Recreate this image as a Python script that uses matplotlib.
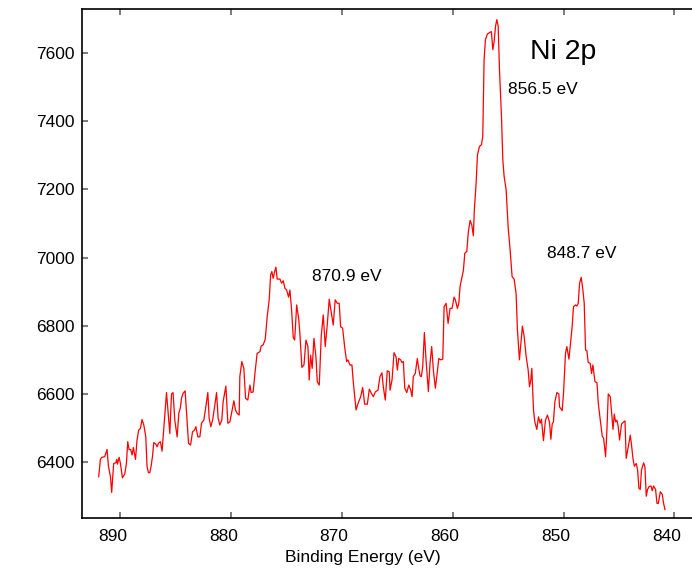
import matplotlib
matplotlib.use("Agg")
import matplotlib.pyplot as plt
from matplotlib.transforms import ScaledTranslation

plt.rcParams["font.family"] = ["Liberation Sans", "DejaVu Sans"]

# Ni 2p spectrum (binding energy in eV, counts)
energy = [
    891.96, 891.81, 891.69, 891.42, 891.21, 891.08, 890.90, 890.79, 890.67, 890.61,
    890.42, 890.33, 890.27, 890.12, 890.00, 889.82, 889.61, 889.46, 889.34, 889.22,
    889.07, 888.95, 888.83, 888.64, 888.50, 888.35, 888.19, 888.05, 887.89, 887.71,
    887.60, 887.47, 887.35, 887.23, 887.11, 886.99, 886.81, 886.69, 886.57, 886.39,
    886.24, 886.02, 885.84, 885.70, 885.54, 885.39, 885.25, 885.09, 884.88, 884.73,
    884.58, 884.49, 884.34, 884.16, 884.03, 883.85, 883.67, 883.49, 883.31, 883.19,
    883.01, 882.83, 882.68, 882.47, 882.29, 882.11, 881.99, 881.84, 881.68, 881.50,
    881.32, 881.18, 881.03, 880.85, 880.73, 880.48, 880.30, 880.12, 879.97, 879.76,
    879.61, 879.46, 879.28, 879.22, 879.04, 878.86, 878.70, 878.50, 878.31, 878.20,
    878.02, 877.84, 877.66, 877.41, 877.29, 877.11, 876.93, 876.75, 876.57, 876.44,
    876.33, 876.21, 876.08, 875.96, 875.85, 875.60, 875.45, 875.30, 875.15, 875.00,
    874.82, 874.70, 874.55, 874.40, 874.27, 874.09, 873.91, 873.80, 873.62, 873.43,
    873.25, 873.07, 872.96, 872.83, 872.69, 872.53, 872.35, 872.23, 872.05, 871.87,
    871.69, 871.51, 871.33, 871.15, 870.97, 870.79, 870.61, 870.43, 870.25, 870.12,
    869.94, 869.76, 869.58, 869.46, 869.28, 869.10, 868.98, 868.85, 868.73, 868.55,
    868.31, 868.13, 867.95, 867.71, 867.53, 867.35, 867.17, 866.99, 866.75, 866.57,
    866.39, 866.27, 866.09, 865.91, 865.73, 865.66, 865.48, 865.30, 865.12, 865.00,
    864.88, 864.70, 864.58, 864.46, 864.33, 864.15, 863.97, 863.79, 863.67, 863.56,
    863.38, 863.20, 863.07, 862.95, 862.83, 862.71, 862.56, 862.41, 862.20, 862.05,
    861.90, 861.75, 861.57, 861.44, 861.26, 861.08, 860.90, 860.78, 860.60, 860.42,
    860.24, 860.06, 859.88, 859.76, 859.58, 859.45, 859.34, 859.18, 859.04, 858.91,
    858.73, 858.59, 858.43, 858.28, 858.14, 858.05, 857.89, 857.77, 857.59, 857.41,
    857.29, 857.17, 857.05, 856.87, 856.63, 856.51, 856.38, 856.26, 856.14, 856.02,
    855.90, 855.78, 855.60, 855.48, 855.36, 855.18, 855.00, 854.82, 854.64, 854.46,
    854.28, 854.16, 853.98, 853.85, 853.71, 853.55, 853.37, 853.19, 853.07, 852.95,
    852.86, 852.71, 852.59, 852.41, 852.26, 852.11, 851.99, 851.81, 851.63, 851.45,
    851.27, 851.14, 851.02, 850.91, 850.78, 850.60, 850.42, 850.36, 850.12, 850.00,
    849.82, 849.70, 849.51, 849.40, 849.22, 849.10, 848.92, 848.79, 848.67, 848.55,
    848.40, 848.25, 848.13, 848.01, 847.89, 847.77, 847.59, 847.47, 847.35, 847.16,
    846.98, 846.86, 846.68, 846.50, 846.38, 846.20, 846.08, 845.96, 845.78, 845.66,
    845.53, 845.42, 845.30, 845.18, 845.06, 844.94, 844.76, 844.58, 844.45, 844.34,
    844.16, 843.97, 843.86, 843.73, 843.61, 843.43, 843.31, 843.19, 843.07, 842.96,
    842.77, 842.65, 842.53, 842.41, 842.28, 842.10, 841.99, 841.87, 841.69, 841.56,
    841.44, 841.26, 841.08, 840.97, 840.84,
]
counts = [
    6357, 6408, 6414, 6416, 6437, 6388, 6357, 6311, 6367, 6396,
    6398, 6408, 6394, 6414, 6396, 6354, 6365, 6396, 6460, 6437,
    6437, 6421, 6443, 6408, 6465, 6494, 6499, 6525, 6509, 6474,
    6388, 6369, 6369, 6388, 6416, 6457, 6453, 6445, 6455, 6460,
    6432, 6529, 6604, 6548, 6484, 6600, 6604, 6523, 6474, 6543,
    6561, 6587, 6602, 6609, 6543, 6455, 6450, 6489, 6494, 6504,
    6474, 6474, 6514, 6523, 6562, 6604, 6529, 6504, 6523, 6562,
    6604, 6529, 6509, 6523, 6577, 6623, 6514, 6518, 6543, 6580,
    6553, 6543, 6538, 6651, 6695, 6675, 6587, 6582, 6626, 6604,
    6606, 6665, 6719, 6724, 6741, 6744, 6760, 6827, 6876, 6949,
    6959, 6939, 6959, 6972, 6937, 6937, 6925, 6932, 6910, 6905,
    6884, 6905, 6848, 6766, 6758, 6861, 6822, 6778, 6678, 6685,
    6758, 6739, 6641, 6714, 6675, 6763, 6709, 6636, 6626, 6770,
    6832, 6739, 6802, 6878, 6841, 6802, 6876, 6866, 6866, 6797,
    6793, 6739, 6695, 6700, 6685, 6685, 6636, 6592, 6553, 6572,
    6592, 6619, 6570, 6570, 6614, 6602, 6592, 6606, 6611, 6651,
    6662, 6621, 6582, 6668, 6665, 6611, 6641, 6721, 6709, 6670,
    6704, 6700, 6692, 6695, 6617, 6604, 6626, 6611, 6592, 6651,
    6660, 6704, 6675, 6653, 6651, 6680, 6780, 6700, 6607, 6690,
    6739, 6670, 6617, 6651, 6704, 6700, 6702, 6856, 6866, 6807,
    6851, 6851, 6884, 6876, 6851, 6866, 6915, 6940, 6962, 7013,
    7018, 7076, 7109, 7096, 7064, 7140, 7218, 7301, 7326, 7331,
    7355, 7580, 7639, 7656, 7661, 7663, 7610, 7634, 7678, 7698,
    7680, 7551, 7414, 7287, 7238, 7199, 7091, 7023, 6944, 6937,
    6895, 6788, 6700, 6749, 6799, 6768, 6709, 6670, 6621, 6641,
    6675, 6553, 6518, 6496, 6533, 6514, 6526, 6463, 6523, 6538,
    6518, 6467, 6512, 6518, 6577, 6604, 6600, 6562, 6551, 6602,
    6719, 6739, 6702, 6739, 6797, 6856, 6861, 6858, 6866, 6925,
    6942, 6905, 6866, 6729, 6727, 6692, 6690, 6660, 6685, 6636,
    6633, 6573, 6523, 6476, 6470, 6416, 6494, 6600, 6592, 6545,
    6496, 6541, 6518, 6523, 6504, 6465, 6512, 6518, 6521, 6411,
    6445, 6479, 6450, 6411, 6388, 6396, 6377, 6323, 6320, 6377,
    6398, 6386, 6300, 6320, 6328, 6330, 6316, 6330, 6320, 6279,
    6279, 6313, 6305, 6280, 6261,
]

x_ticks = [890, 880, 870, 860, 850, 840]
y_ticks = [6400, 6600, 6800, 7000, 7200, 7400, 7600]

# peak labels: text, x (eV, left edge), y (counts, baseline)
peak_labels = ["856.5 eV", "848.7 eV", "870.9 eV"]
peak_x = [855.0, 851.45, 872.7]
peak_y = [7480, 6999, 6931]

fig = plt.figure(figsize=(6.92, 5.69), dpi=100)
ax = fig.add_axes([0.118, 0.089, 0.882, 0.895])

ax.plot(energy, counts, color="red", linewidth=0.9)

ax.set_xlim(893.5, 838.4)
ax.set_ylim(6235, 7729)
ax.set_xticks(x_ticks)
ax.set_yticks(y_ticks)

ax.spines["right"].set_visible(False)
for side in ["left", "top", "bottom"]:
    ax.spines[side].set_linewidth(1.2)
ax.tick_params(axis="x", direction="in", top=True, length=4, width=1.2,
               color="#666666", labelsize=12.5, pad=8)
ax.tick_params(axis="y", direction="in", length=4, width=1.2,
               color="#666666", labelsize=12.5, pad=5)

# tick labels sit a little left of their ticks in the original
shift = ScaledTranslation(-8 / 100, 0, fig.dpi_scale_trans)
for lbl in ax.get_xticklabels():
    lbl.set_transform(lbl.get_transform() + shift)

ax.set_xlabel("Binding Energy (eV)", fontsize=12.5)
ax.xaxis.set_label_coords(0.461, -0.062)

for txt, px, py in zip(peak_labels, peak_x, peak_y):
    ax.text(px, py, txt, fontsize=12.5, ha="left", va="baseline")
ax.text(853.0, 7582, "Ni 2p", fontsize=20.5, ha="left", va="baseline")

plt.savefig("out.png", dpi=100)
